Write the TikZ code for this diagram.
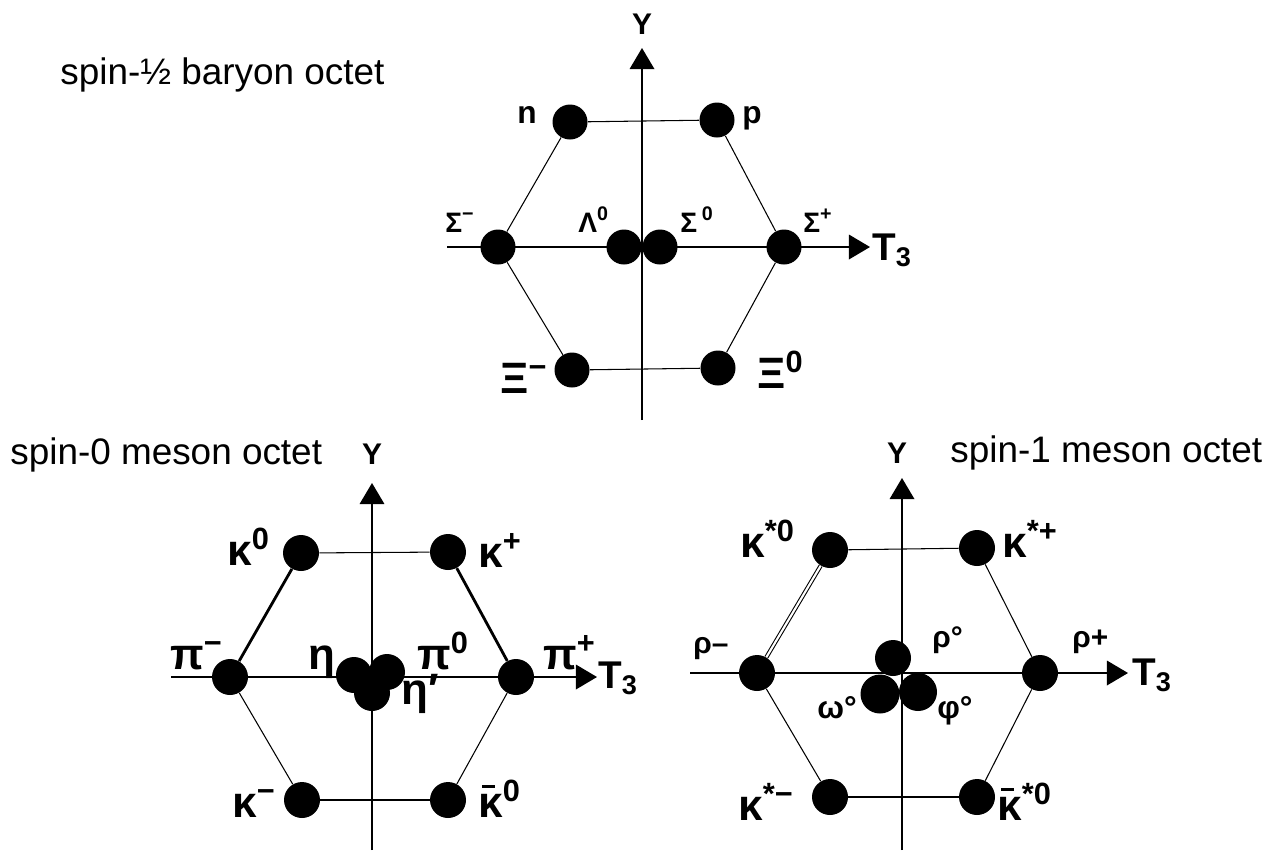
\documentclass[tikz,border=0pt]{standalone}
\usepackage{fontspec}
\setmainfont{Liberation Sans}
\usepackage{tikz}
\usetikzlibrary{arrows.meta,positioning}
% bar over an antiparticle letter
\newcommand{\antik}[1]{\ooalign{#1\cr\hidewidth\rule[0.66em]{0.3em}{0.07em}\hidewidth\hidewidth\cr}}

\begin{document}
\begin{tikzpicture}[x=0.02cm,y=-0.02cm,
    wdot/.style={circle,fill=black,inner sep=0pt,minimum size=0.7cm},
    mdot/.style={wdot,minimum size=0.72cm},
    hexline/.style={line width=0.6pt},
    heavyline/.style={line width=1.6pt},
    axisarrow/.style={line width=0.9pt,-{Triangle[length=12pt,width=14pt]}},
    title/.style={inner sep=0pt,anchor=west,font=\fontsize{21}{24}\selectfont},
    axlab/.style={inner sep=0pt,font=\bfseries\fontsize{17}{20}\selectfont},
    tlab/.style={inner sep=0pt,anchor=base west,font=\bfseries\fontsize{22}{26}\selectfont},
    lab/.style={inner sep=0pt,anchor=base west,font=\bfseries\fontsize{16}{19}\selectfont},
    biglab/.style={inner sep=0pt,anchor=base west,font=\bfseries\fontsize{25}{30}\selectfont},
    midlab/.style={inner sep=0pt,anchor=base west,font=\bfseries\fontsize{18}{22}\selectfont},
    rholab/.style={inner sep=0pt,anchor=base west,font=\bfseries\fontsize{17}{20}\selectfont}]
  \useasboundingbox (0,0) rectangle (1284,850);

  % spin-1/2 baryon octet
  \node[title] (baryon) at (60,75) {spin-½ baryon octet};
  \coordinate (by0) at (642,420);
  \coordinate (by1) at (642,48);
  \coordinate (bt0) at (447,247);
  \coordinate (bt1) at (870,247);
  \draw[axisarrow] (by0) -- (by1);
  \draw[axisarrow] (bt0) -- (bt1);
  \node[axlab] (bY) at (642,24) {Y};
  \node[tlab] (bT) at (872,260) {T\textsubscript{3}};
  \node[wdot] (n) at (570,122) {};
  \node[wdot] (p) at (717,120) {};
  \node[wdot] (sigm) at (498,247) {};
  \node[wdot] (lam) at (624,247) {};
  \node[wdot] (sigz) at (660,247) {};
  \node[wdot] (sigp) at (784,247) {};
  \node[wdot] (xim) at (572,370) {};
  \node[wdot] (xiz) at (718,368) {};
  \draw[hexline] (n) -- (p) -- (sigp) -- (xiz) -- (xim) -- (sigm) -- (n);
  \node[lab,font=\bfseries\fontsize{18}{21}\selectfont] (nl) at (517,123) {n};
  \node[lab,font=\bfseries\fontsize{18}{21}\selectfont] (pl) at (742,123) {p};
  \node[lab] (sigml) at (445,232) {Σ\textsuperscript{−}};
  \node[lab] (laml) at (578,232) {Λ\textsuperscript{0}};
  \node[lab] (sigzl) at (680,232) {Σ\,\textsuperscript{0}};
  \node[lab] (sigpl) at (803,232) {Σ\textsuperscript{+}};
  \node[biglab] (ximl) at (500,393) {Ξ\textsuperscript{−}};
  \node[biglab] (xizl) at (757,388) {Ξ\textsuperscript{0}};

  % spin-0 meson octet
  \node[title] (pseudo) at (10,455) {spin-0 meson octet};
  \coordinate (py0) at (372,850);
  \coordinate (py1) at (372,483);
  \coordinate (pt0) at (171,677);
  \coordinate (pt1) at (597,677);
  \draw[axisarrow] (py0) -- (py1);
  \draw[axisarrow] (pt0) -- (pt1);
  \node[axlab] (pY) at (372,454) {Y};
  \node[tlab] (pT) at (598,688) {T\textsubscript{3}};
  \node[mdot] (kz) at (301,553) {};
  \node[mdot] (kp) at (448,552) {};
  \node[mdot] (pim) at (230,677) {};
  \node[mdot] (eta) at (354,675) {};
  \node[mdot] (piz) at (387,672) {};
  \node[mdot] (etap) at (372,693) {};
  \node[mdot] (pip) at (516,677) {};
  \node[mdot] (km) at (302,800) {};
  \node[mdot] (kbz) at (448,800) {};
  \draw[hexline] (kz) -- (kp);
  \draw[heavyline] (kp) -- (pip);
  \draw[hexline] (pip) -- (kbz);
  \draw[heavyline] (kbz) -- (km);
  \draw[hexline] (km) -- (pim);
  \draw[heavyline] (pim) -- (kz);
  \draw[line width=1.3pt] (pim) -- (pip);
  \node[biglab] (kzl) at (227,565) {κ\textsuperscript{0}};
  \node[biglab] (kpl) at (478,567) {κ\textsuperscript{+}};
  \node[biglab] (piml) at (170,669) {π\textsuperscript{−}};
  \node[biglab] (etal) at (308,669) {η};
  \node[biglab] (pizl) at (417,669) {π\textsuperscript{0}};
  \node[biglab] (pipl) at (543,669) {π\textsuperscript{+}};
  \node[biglab] (etapl) at (401,704) {η′};
  \node[biglab] (kml) at (232,817) {κ\textsuperscript{−}};
  \node[biglab] (kbzl) at (478,817) {\antik{κ}\textsuperscript{0}};

  % spin-1 meson octet
  \node[title] (vector) at (950,453) {spin-1 meson octet};
  \coordinate (vy0) at (902,850);
  \coordinate (vy1) at (902,478);
  \coordinate (vt0) at (690,673);
  \coordinate (vt1) at (1128,673);
  \draw[axisarrow] (vy0) -- (vy1);
  \draw[axisarrow] (vt0) -- (vt1);
  \node[axlab] (vY) at (897,453) {Y};
  \node[tlab] (vT) at (1132,685) {T\textsubscript{3}};
  \node[mdot] (ksz) at (830,550) {};
  \node[mdot] (ksp) at (977,548) {};
  \node[mdot] (rhom) at (757,673) {};
  \node[mdot] (rhop) at (1040,673) {};
  \node[mdot] (rhoz) at (893,658) {};
  \node[wdot,minimum size=0.78cm] (omega) at (880,694) {};
  \node[wdot,minimum size=0.76cm] (phi) at (918,692) {};
  \node[mdot] (ksm) at (830,797) {};
  \node[mdot] (ksbz) at (977,797) {};
  \draw[hexline] (ksz) -- (ksp) -- (rhop) -- (ksbz);
  \draw[heavyline] (ksbz) -- (ksm);
  \draw[hexline] (ksm) -- (rhom);
  \draw[hexline,double,double distance=1.2pt] (rhom) -- (ksz);
  \draw[line width=1.3pt] (rhom) -- (rhop);
  \node[biglab] (kszl) at (740,557) {κ\textsuperscript{*0}};
  \node[biglab] (kspl) at (1002,557) {κ\textsuperscript{*+}};
  \node[rholab] (rhoml) at (693,653) {ρ–};
  \node[rholab] (rhozl) at (932,647) {ρ°};
  \node[rholab] (rhopl) at (1072,647) {ρ+};
  \node[midlab] (omegal) at (817,718) {ω°};
  \node[midlab] (phil) at (937,718) {φ°};
  \node[biglab] (ksml) at (738,820) {κ\textsuperscript{*−}};
  \node[biglab] (ksbzl) at (997,820) {\antik{κ}\textsuperscript{*0}};
\end{tikzpicture}
\end{document}
